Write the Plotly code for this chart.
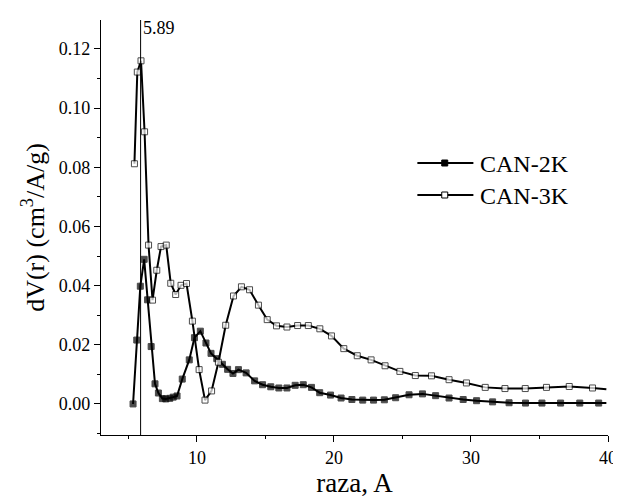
import plotly.graph_objects as go

# CAN-2K (filled squares)
x_2k = [5.34, 5.61, 5.87, 6.15, 6.40, 6.66, 6.94, 7.19, 7.48, 7.73, 8.02, 8.27, 8.55, 8.93,
        9.44, 9.82, 10.25, 10.66, 11.03, 11.45, 11.86, 12.24, 12.63, 13.03, 13.59, 14.21,
        14.79, 15.39, 15.98, 16.57, 17.17, 17.76, 18.36, 18.96, 19.75, 20.52, 21.31, 22.10,
        22.89, 23.68, 24.50, 25.48, 26.46, 27.42, 28.40, 29.43, 30.41, 31.58, 32.78, 33.98,
        35.18, 36.54, 37.94, 39.32, 39.88]
y_2k = [0.0, 0.0216, 0.0398, 0.0489, 0.0352, 0.0194, 0.0068, 0.0037, 0.0018, 0.0017, 0.0019,
        0.0023, 0.0027, 0.0084, 0.0149, 0.0224, 0.0246, 0.0206, 0.0171, 0.0153, 0.0134,
        0.0117, 0.0103, 0.0116, 0.0105, 0.0078, 0.0065, 0.0058, 0.0054, 0.0054, 0.0063,
        0.0065, 0.0056, 0.0038, 0.0030, 0.0020, 0.0015, 0.0013, 0.0013, 0.0014, 0.0021,
        0.0031, 0.0034, 0.0028, 0.0020, 0.0015, 0.0011, 0.0007, 0.0004, 0.0003, 0.0003,
        0.0003, 0.0003, 0.0003, 0.0003]

# CAN-3K (open squares)
x_3k = [5.44, 5.65, 5.92, 6.18, 6.47, 6.76, 7.07, 7.38, 7.76, 8.09, 8.45, 8.84, 9.24, 9.67,
        10.16, 10.59, 11.07, 11.57, 12.10, 12.67, 13.25, 13.84, 14.49, 15.13, 15.81, 16.57,
        17.35, 18.13, 18.97, 19.82, 20.72, 21.70, 22.71, 23.73, 24.81, 25.94, 27.12, 28.40,
        29.67, 31.04, 32.48, 33.96, 35.51, 37.17, 38.87, 39.88]
y_3k = [0.0812, 0.1122, 0.1160, 0.0920, 0.0537, 0.0351, 0.0452, 0.0532, 0.0537, 0.0408,
        0.0370, 0.0401, 0.0407, 0.0280, 0.0116, 0.0013, 0.0044, 0.0141, 0.0266, 0.0365,
        0.0396, 0.0386, 0.0334, 0.0285, 0.0264, 0.0260, 0.0265, 0.0265, 0.0254, 0.0230,
        0.0187, 0.0163, 0.0149, 0.0129, 0.0110, 0.0096, 0.0095, 0.0082, 0.0071, 0.0056,
        0.0052, 0.0052, 0.0056, 0.0059, 0.0054, 0.0050]

series_names = ["CAN-2K", "CAN-3K"]
peak_x = 5.89
peak_label = "5.89"
x_ticks = [10, 20, 30, 40]
x_minor = [5, 15, 25, 35]
y_ticks = [0.00, 0.02, 0.04, 0.06, 0.08, 0.10, 0.12]
y_minor = [-0.01, 0.01, 0.03, 0.05, 0.07, 0.09, 0.11]

FONT = "Liberation Serif, Times New Roman, serif"


def sizes(n):
    s = [6] * n
    s[-1] = 0
    return s


fig = go.Figure()
fig.add_trace(go.Scatter(
    x=x_2k, y=y_2k, name=series_names[0], mode="lines+markers",
    line=dict(color="black", width=2),
    marker=dict(symbol="square", size=sizes(len(x_2k)), color="black",
                line=dict(color="black", width=1)),
    cliponaxis=False,
))
fig.add_trace(go.Scatter(
    x=x_3k, y=y_3k, name=series_names[1], mode="lines+markers",
    line=dict(color="black", width=2),
    marker=dict(symbol="square", size=sizes(len(x_3k)), color="white",
                line=dict(color="black", width=1)),
    cliponaxis=False,
))

# vertical reference line at the peak position
fig.add_shape(type="line", xref="x", yref="paper", x0=peak_x, x1=peak_x, y0=0, y1=1,
              line=dict(color="black", width=1))
fig.add_annotation(x=peak_x, y=1, xref="x", yref="paper", text=peak_label, showarrow=False,
                   xanchor="left", yanchor="top", xshift=0, yshift=4,
                   font=dict(family=FONT, size=18, color="black"))

# legend drawn in the style of the original (long sample lines)
leg_x0, leg_x1, leg_mx, leg_tx = 0.624, 0.7345, 0.678, 0.744
leg_rows = [0.6554, 0.5783]
leg_fill = ["black", "white"]
for name, ly, fc in zip(series_names, leg_rows, leg_fill):
    fig.add_shape(type="line", xref="paper", yref="paper", x0=leg_x0, x1=leg_x1, y0=ly, y1=ly,
                  line=dict(color="black", width=2))
    fig.add_shape(type="rect", xref="paper", yref="paper", xsizemode="pixel", ysizemode="pixel",
                  xanchor=leg_mx, yanchor=ly, x0=-3, x1=3, y0=-3, y1=3,
                  fillcolor=fc, line=dict(color="black", width=1))
    fig.add_annotation(x=leg_tx, y=ly, xref="paper", yref="paper", text=name, showarrow=False,
                       xanchor="left", yanchor="middle", yshift=-1,
                       font=dict(family=FONT, size=24, color="black"))

fig.update_layout(
    width=621, height=497,
    margin=dict(l=93, r=12, t=12, b=70),
    paper_bgcolor="white", plot_bgcolor="white",
    font=dict(family=FONT, color="black"),
    showlegend=False,
)
fig.update_xaxes(
    range=[3, 40], tickvals=x_ticks, ticktext=[str(v) for v in x_ticks],
    ticks="outside", ticklen=6, tickwidth=1, tickcolor="black",
    minor=dict(tickvals=x_minor, ticks="outside", ticklen=3, tickcolor="black", tickwidth=1),
    showline=True, linecolor="black", linewidth=1.3, showgrid=False, zeroline=False,
    tickfont=dict(family=FONT, size=18, color="black"),
    title=dict(text="raza, A", font=dict(family=FONT, size=27, color="black"), standoff=6),
)
fig.update_yaxes(
    range=[-0.0105, 0.1298], tickvals=y_ticks, ticktext=[f"{v:.2f}" for v in y_ticks],
    ticks="outside", ticklen=6, tickwidth=1, tickcolor="black",
    minor=dict(tickvals=y_minor, ticks="outside", ticklen=3, tickcolor="black", tickwidth=1),
    showline=True, linecolor="black", linewidth=1.3, showgrid=False, zeroline=False,
    tickfont=dict(family=FONT, size=18, color="black"),
    title=dict(text="dV(r) (cm<sup>3</sup>/A/g)", font=dict(family=FONT, size=26, color="black"),
               standoff=6),
)

fig.write_html("out.html")
